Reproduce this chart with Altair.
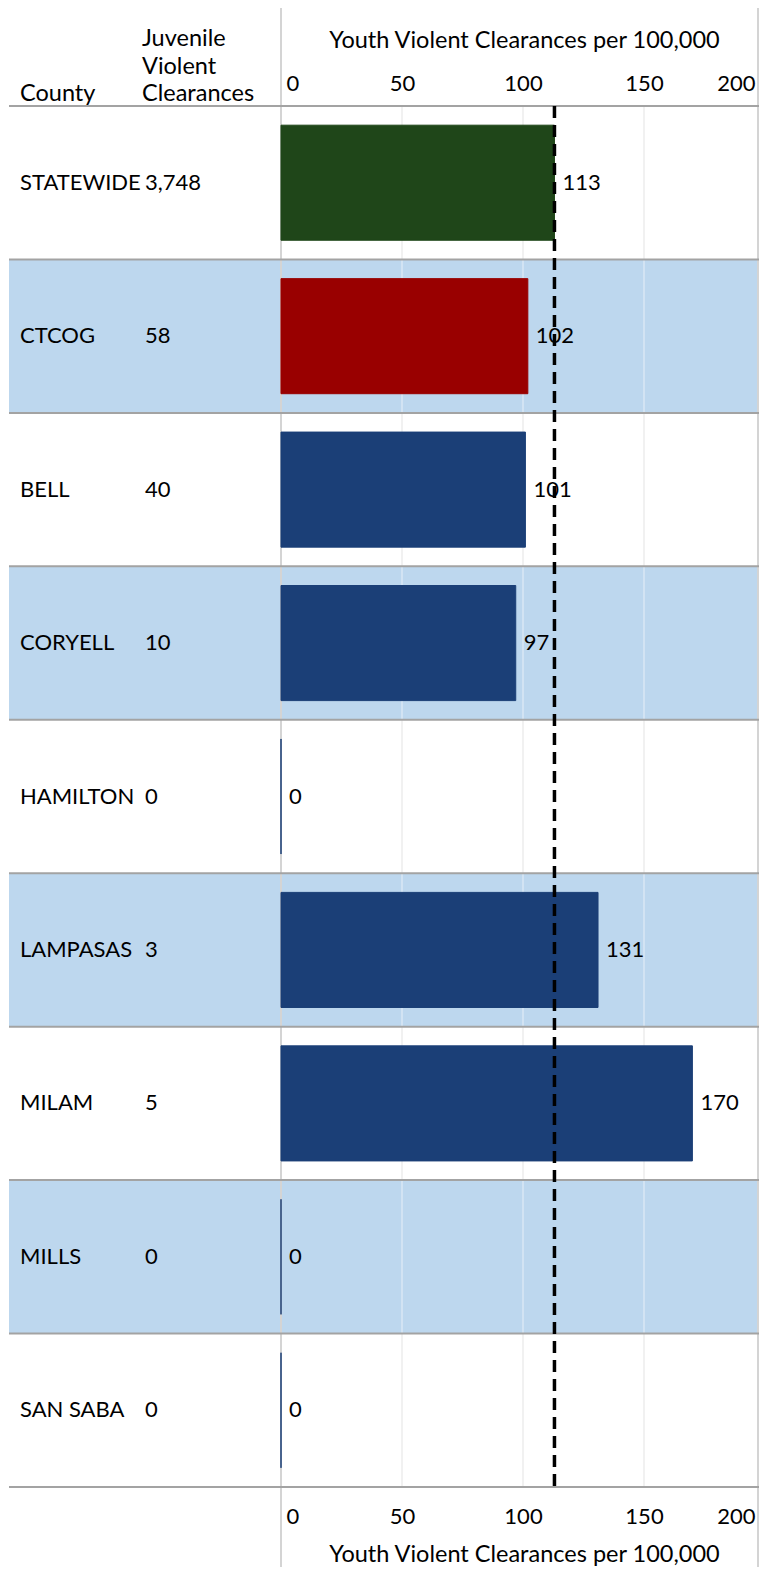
import altair as alt
import pandas as pd

# ---- data ----
counties = ["STATEWIDE", "CTCOG", "BELL", "CORYELL", "HAMILTON",
            "LAMPASAS", "MILAM", "MILLS", "SAN SABA"]
counts = [3748, 58, 40, 10, 0, 3, 5, 0, 0]
rates = [113, 102, 101, 97, 0, 131, 170, 0, 0]
groups = ["State", "Region", "County", "County", "County",
          "County", "County", "County", "County"]
tick_values = [0, 50, 100, 150, 200]
grid_values = [50, 100, 150]
axis_title = "Youth Violent Clearances per 100,000"
header_county = "County"
header_count = ["Juvenile", "Violent", "Clearances"]

# ---- style ----
FONT = "Lato"
FS = 22
HFS = 23.5
GREEN, RED, NAVY = "#1F4619", "#990000", "#1B3F77"
BAND = "#BDD7EE"
W, H = 751, 1381
PAD_TOP, PAD_BOTTOM = 98, 80
ZERO_PX = 273
SPAN_PX = 484          # pixels from 0 to 200 on the value axis
x_min = -ZERO_PX * 200 / SPAN_PX
ROW = H / len(counties)

df = pd.DataFrame({
    "county": counties,
    "count": counts,
    "rate": rates,
    "group": groups,
    "shade": [i % 2 for i in range(len(counties))],
})
grid_df = pd.DataFrame([
    {"tick": t, "county": c, "shade": i % 2}
    for t in grid_values for i, c in enumerate(counties)
])

xs = alt.Scale(domain=[x_min, 200], range=[0, ZERO_PX + SPAN_PX], nice=False, zero=False)
ys = alt.Scale(domain=counties, paddingInner=0, paddingOuter=0)
y_enc = alt.Y("county:N", scale=ys, axis=None)
col_scale = alt.Scale(domain=["State", "Region", "County"], range=[GREEN, RED, NAVY])

label_align = {"condition": [{"test": "datum.value == 0", "value": "left"},
                             {"test": "datum.value == 200", "value": "right"}],
               "value": "center"}
label_offset = {"condition": [{"test": "datum.value == 0", "value": 5},
                              {"test": "datum.value == 200", "value": -10}],
                "value": 0}

common_axis = dict(values=tick_values, grid=False, domain=False, ticks=False, tickSize=0,
                   labelFont=FONT, labelFontSize=FS, labelColor="black",
                   labelBaseline="alphabetic", labelAlign=label_align,
                   labelOffset=label_offset, labelOverlap=False, labelFlush=False,
                   labelBound=False,
                   title=axis_title, titleFont=FONT, titleFontSize=HFS,
                   titleFontWeight="normal", titleColor="black",
                   titleX=516, titleAlign="center", titleBaseline="alphabetic")
top_axis = alt.Axis(orient="top", labelPadding=16, titleY=-59, **common_axis)
bottom_axis = alt.Axis(orient="bottom", labelPadding=36, titleY=74, **common_axis)

base = alt.Chart(df)
one = alt.Chart(pd.DataFrame({"a": [0]}))

bands = base.mark_rect().encode(
    y=y_enc, x=alt.value(1), x2=alt.value(W),
    fill=alt.condition(alt.datum.shade == 1, alt.value(BAND), alt.value("white")),
)
grid = alt.Chart(grid_df).mark_tick(orient="vertical", thickness=2, size=ROW).encode(
    x=alt.X("tick:Q", scale=xs, axis=None), y=y_enc,
    color=alt.condition(alt.datum.shade == 1, alt.value("#DCE8F5"), alt.value("#EBEBEB")),
)
left_edge = alt.Chart(pd.DataFrame({"tick": [0]})).mark_rule(
    color="#D4D4D4", strokeWidth=2).encode(
    x=alt.X("tick:Q", scale=xs, axis=None), y=alt.value(-PAD_TOP), y2=alt.value(H + PAD_BOTTOM))
right_edge = one.mark_rule(color="#D4D4D4", strokeWidth=2).encode(
    x=alt.value(W - 1), y=alt.value(-PAD_TOP), y2=alt.value(H + PAD_BOTTOM))
rowlines = base.mark_rule(color="#A3A3A3", strokeWidth=2).encode(
    y=alt.Y("county:N", scale=ys, axis=None, bandPosition=1),
    x=alt.value(1), x2=alt.value(W))
headline = one.mark_rule(color="#A3A3A3", strokeWidth=2).encode(
    y=alt.value(0), x=alt.value(1), x2=alt.value(W))
bars = base.mark_bar(height={"band": 0.75}, strokeWidth=1).encode(
    x=alt.X("rate:Q", scale=xs, axis=top_axis),
    y=y_enc,
    color=alt.Color("group:N", scale=col_scale, legend=None),
    stroke=alt.Stroke("group:N", scale=col_scale, legend=None),
)
dash = alt.Chart(pd.DataFrame({"rate": [rates[0]]})).mark_rule(
    color="black", strokeWidth=3.5, strokeDash=[12, 7]).encode(
    x=alt.X("rate:Q", scale=xs, axis=None), y=alt.value(0), y2=alt.value(H))
vlabels = base.mark_text(align="left", baseline="middle", dx=8, font=FONT,
                         fontSize=FS, color="black").encode(
    x=alt.X("rate:Q", scale=xs, axis=bottom_axis), y=y_enc, text="rate:Q")
names = base.mark_text(align="left", baseline="middle", font=FONT,
                       fontSize=FS, color="black").encode(
    x=alt.value(12), y=y_enc, text="county:N")
cnts = base.mark_text(align="left", baseline="middle", font=FONT,
                      fontSize=FS, color="black").encode(
    x=alt.value(137), y=y_enc, text=alt.Text("count:Q", format=","))
hdr1 = one.mark_text(align="left", baseline="alphabetic", font=FONT, fontSize=HFS,
                     color="black", text=header_county).encode(
    x=alt.value(12), y=alt.value(-5))
hdr2 = one.mark_text(align="left", baseline="alphabetic", font=FONT, fontSize=HFS,
                     color="black", text=header_count, lineHeight=27.5).encode(
    x=alt.value(134), y=alt.value(-60))

chart = alt.layer(
    bands, grid, left_edge, right_edge, rowlines, headline, bars, dash,
    vlabels, names, cnts, hdr1, hdr2
).resolve_axis(x="independent").properties(
    width=W, height=H,
    autosize=alt.AutoSizeParams(type="none"),
    padding={"left": 0, "top": PAD_TOP, "right": 0, "bottom": PAD_BOTTOM},
).configure_view(stroke=None)

chart.save("out.html", embed_options={"renderer": "svg", "actions": False})
